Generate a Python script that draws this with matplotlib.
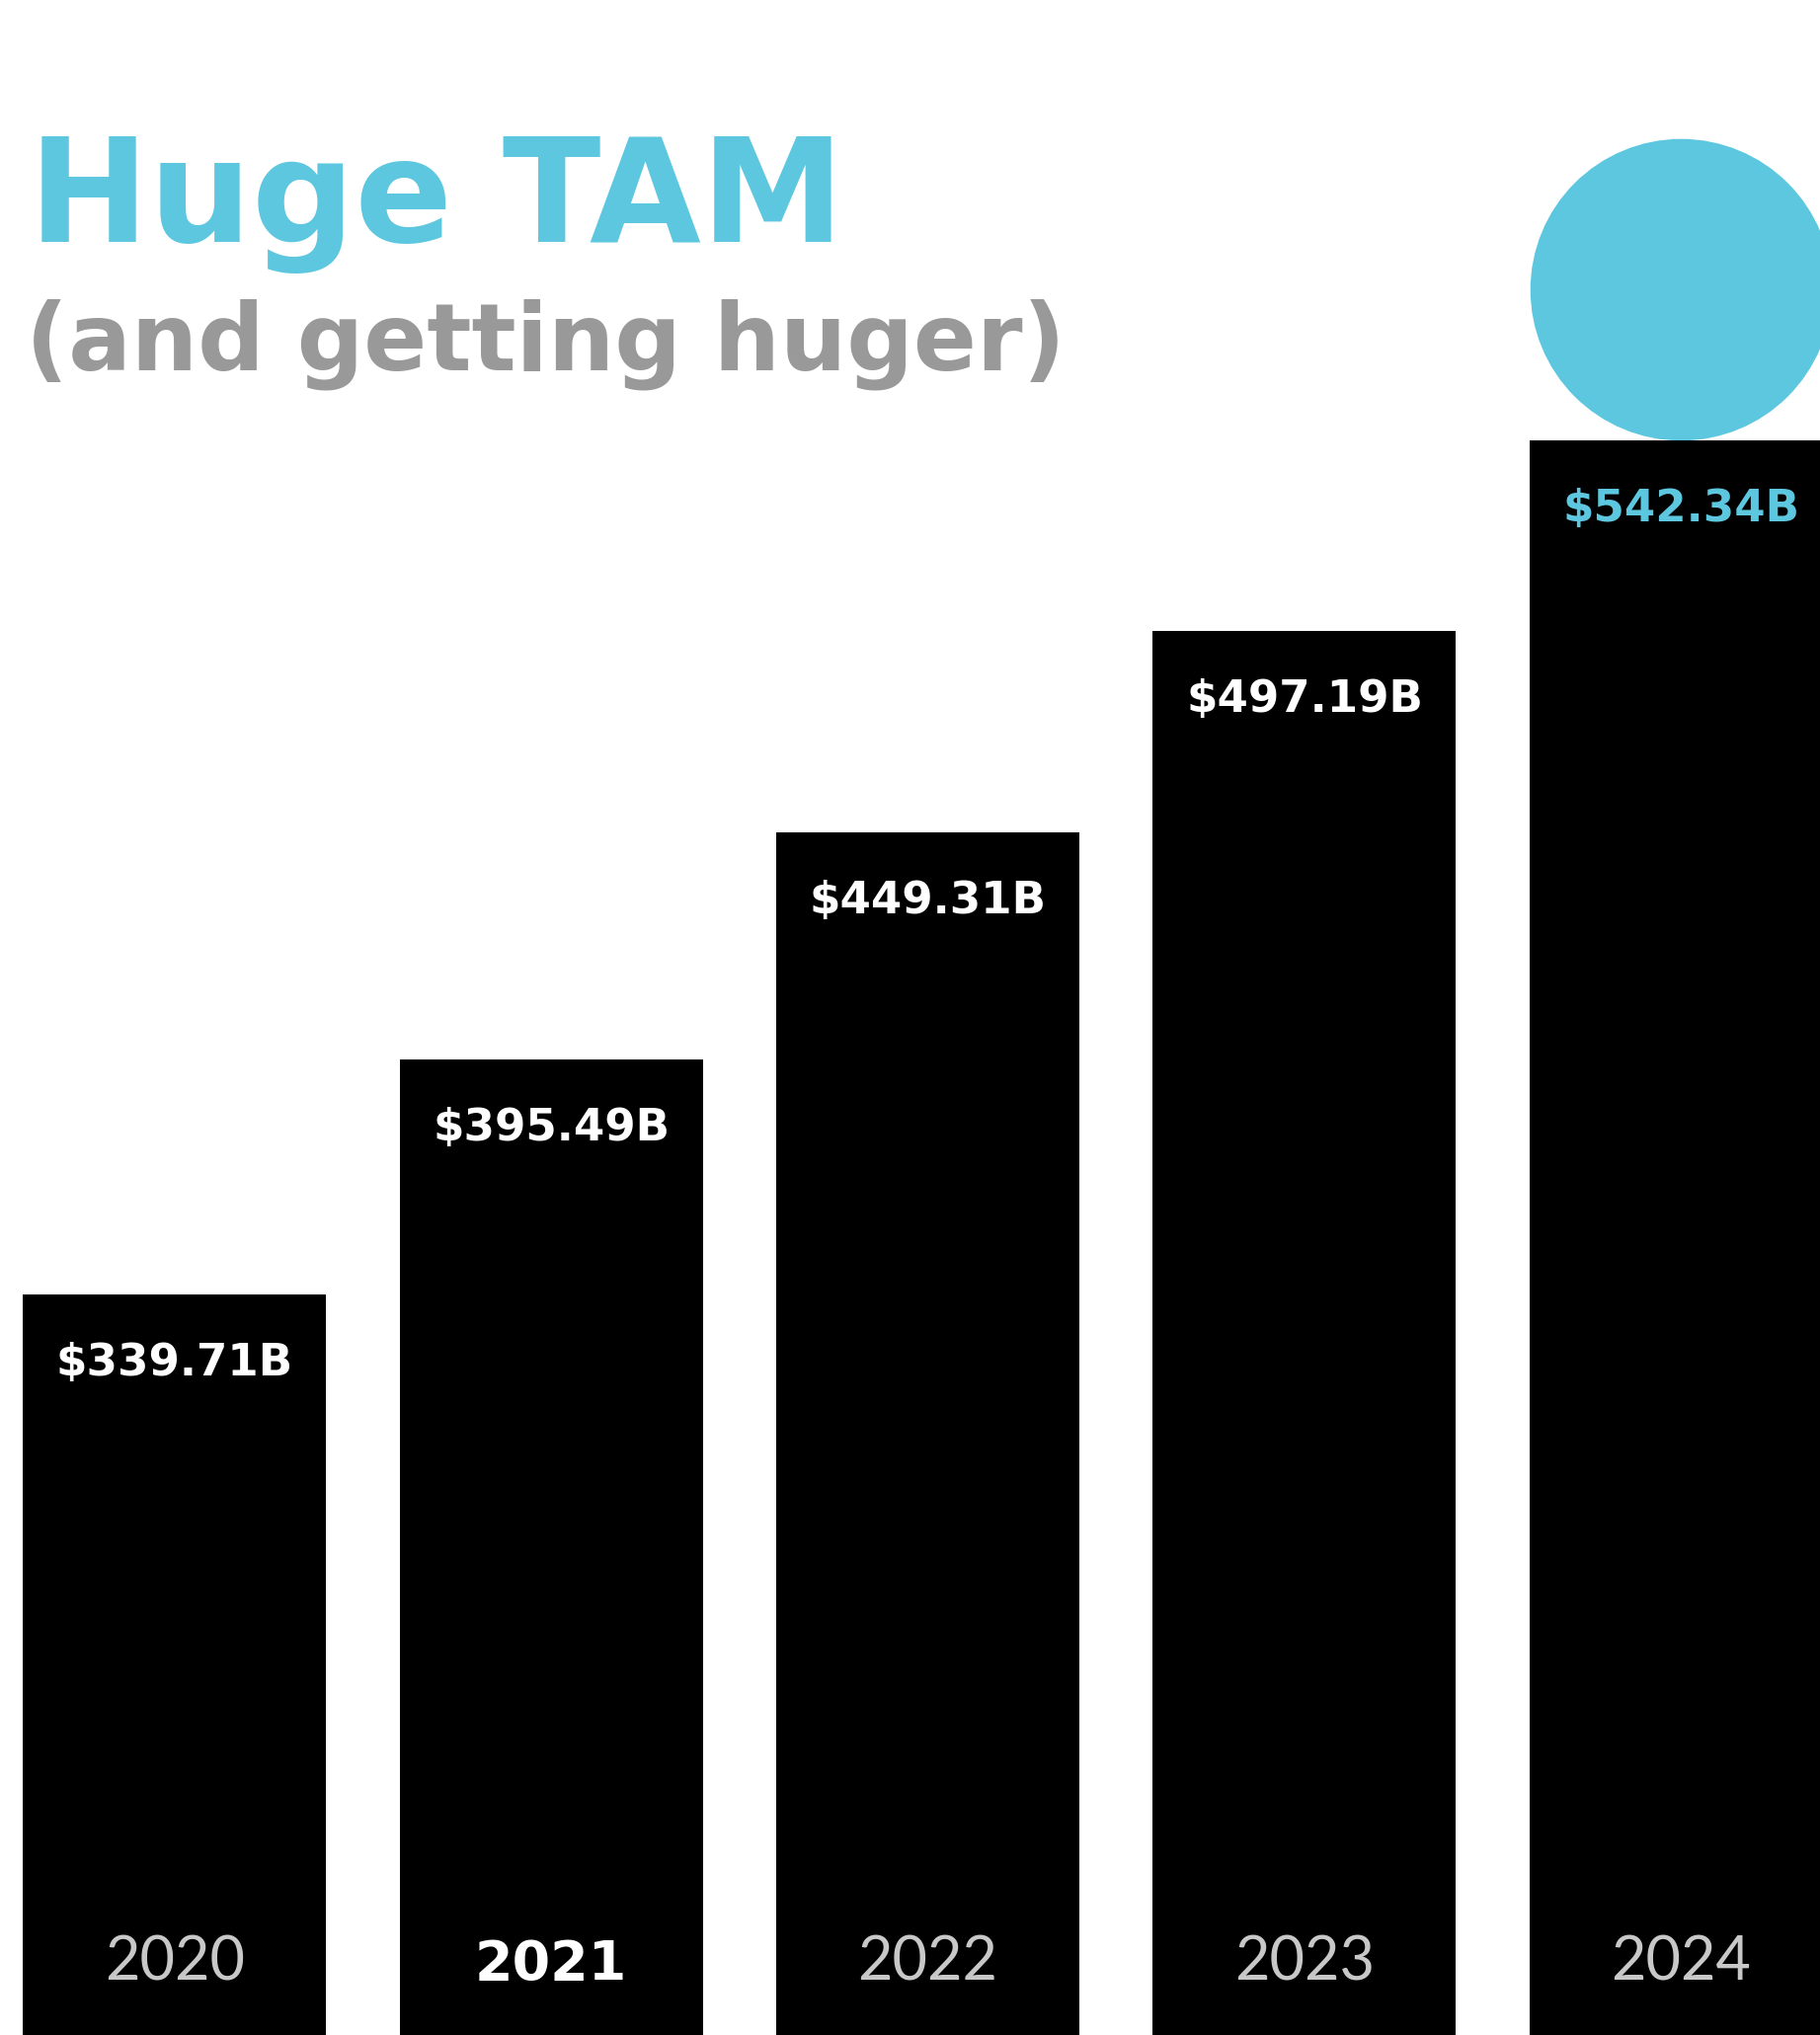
import matplotlib
matplotlib.use("Agg")
import matplotlib.pyplot as plt
from matplotlib.transforms import offset_copy

years = ["2020", "2021", "2022", "2023", "2024"]
tam = [339.71, 395.49, 449.31, 497.19, 542.34]
labels = ["$339.71B", "$395.49B", "$449.31B", "$497.19B", "$542.34B"]

cyan = "#5ec7e0"
grey = "#999999"

fig = plt.figure(figsize=(18.43, 20.61), dpi=100)
ax = fig.add_axes([0, 0, 1, 1])
ax.set_xlim(-0.464, 4.369)
ax.set_ylim(163.8, 647.0)
ax.axis("off")

x = list(range(len(years)))
ax.bar(x, tam, width=0.805, color="black", zorder=2)

# value labels just under each bar top
lab_tr = offset_copy(ax.transData, fig=fig, x=0, y=-82, units="dots")
for i, (v, s) in enumerate(zip(tam, labels)):
    col = cyan if i == len(tam) - 1 else "white"
    ax.text(i, v, s, transform=lab_tr, ha="center", va="baseline",
            color=col, fontsize=32.5, fontweight="bold", family="DejaVu Sans",
            zorder=3)

# year labels along the bottom of the bars
for i, y in enumerate(years):
    if y == "2021":
        ax.text(i, 0.027, y, transform=ax.get_xaxis_transform(), ha="center",
                va="baseline", color="white", fontsize=40, fontweight="bold",
                family="DejaVu Sans", zorder=3)
    else:
        ax.text(i, 0.027, y, transform=ax.get_xaxis_transform(), ha="center",
                va="baseline", color="#c8c8c8", fontsize=44, fontweight="normal",
                family=["Lato", "DejaVu Sans"], zorder=3)

# cyan dot sitting on top of the last bar
dot_tr = offset_copy(ax.transData, fig=fig, x=0, y=153, units="dots")
ax.scatter([x[-1]], [tam[-1]], s=220 ** 2, color=cyan, transform=dot_tr,
           linewidths=0, zorder=1, clip_on=False)

fig.text(29 / 1843, 1 - 245 / 2061, "Huge TAM", color=cyan, fontsize=105,
         fontweight="bold", family="DejaVu Sans", ha="left", va="baseline")
fig.text(26 / 1843, 1 - 375 / 2061, "(and getting huger)", color=grey,
         fontsize=68, fontweight="bold", family="DejaVu Sans", ha="left",
         va="baseline")

fig.savefig("out.png", dpi=100, facecolor="white")
